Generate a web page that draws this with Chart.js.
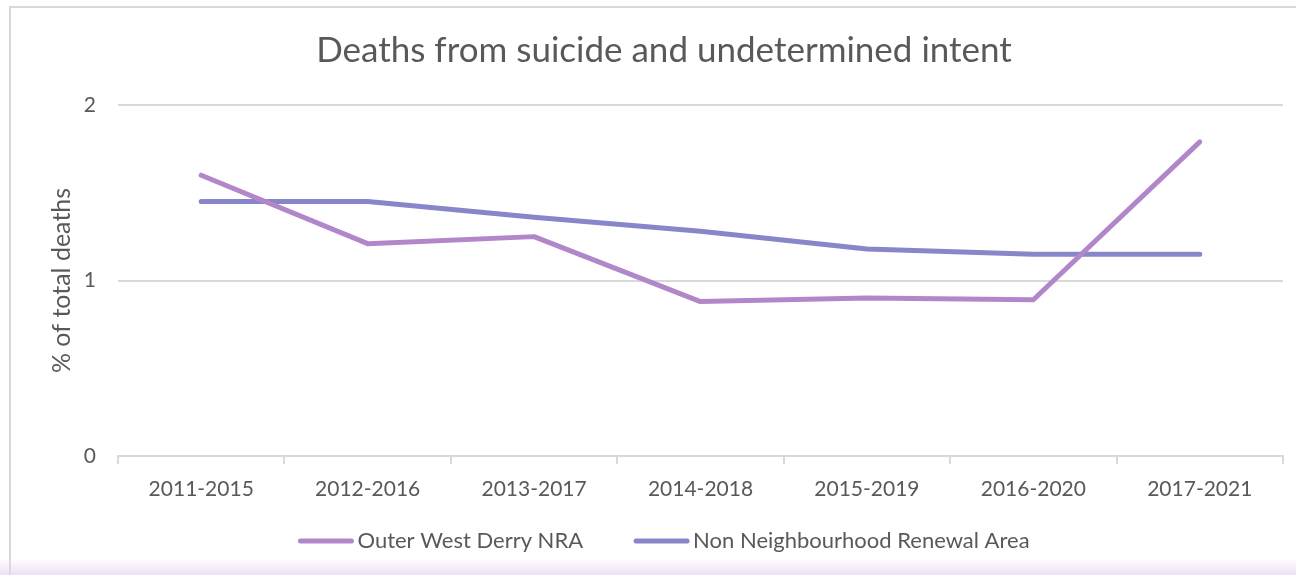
<!DOCTYPE html>
<html>
<head>
<meta charset="utf-8">
<script src="https://cdn.jsdelivr.net/npm/chart.js@4"></script>
<style>
  html, body { margin: 0; padding: 0; }
  body {
    width: 1296px; height: 575px; overflow: hidden; position: relative;
    background: linear-gradient(to bottom, #ffffff 0px, #ffffff 558px, #ece0f4 575px);
  }
  #frame {
    position: absolute; left: 9px; top: 6px; width: 1300px; height: 600px;
    border-top: 2px solid #d9d9d9; border-left: 2px solid #d9d9d9;
  }
  #wrap { position: absolute; left: 0; top: 0; width: 1296px; height: 575px; }
</style>
</head>
<body>
<div id="frame"></div>
<div id="wrap"><canvas id="myChart"></canvas></div>
<script>
const periods = ['2011-2015', '2012-2016', '2013-2017', '2014-2018', '2015-2019', '2016-2020', '2017-2021'];
const outerWestDerry = [1.60, 1.21, 1.25, 0.88, 0.90, 0.89, 1.79];
const nonNRA = [1.45, 1.45, 1.36, 1.28, 1.18, 1.15, 1.15];
const yTicks = [0, 1, 2];

const textColor = '#595959';
const gridColor = '#d9d9d9';
let tickFont = { family: 'Lato', size: 21 };

// legend drawn by hand so the line/text gaps match the original
const lineLegend = {
  id: 'lineLegend',
  afterDraw(chart) {
    const c = chart.ctx;
    const y = 541, lineW = 55, gap = 4, itemGap = 51;
    c.save();
    c.font = '22px Lato';
    c.textBaseline = 'middle';
    const items = chart.data.datasets.map(ds => ({
      ds: ds, w: lineW + gap + c.measureText(ds.label).width
    }));
    let total = items.reduce((s, it) => s + it.w, 0) + itemGap * (items.length - 1);
    let x = 664 - total / 2;
    items.forEach(it => {
      c.strokeStyle = it.ds.borderColor;
      c.lineWidth = 5;
      c.lineCap = 'round';
      c.beginPath();
      c.moveTo(x + 2, y);
      c.lineTo(x + lineW - 2, y);
      c.stroke();
      c.fillStyle = textColor;
      c.fillText(it.ds.label, x + lineW + gap, y);
      x += it.w + itemGap;
    });
    c.restore();
  }
};

const ctx = document.getElementById('myChart');

new Chart(ctx, {
  type: 'line',
  data: {
    labels: periods,
    datasets: [{
      label: 'Outer West Derry NRA',
      data: outerWestDerry,
      borderColor: '#b287c9',
      backgroundColor: '#b287c9',
      borderWidth: 5,
      borderCapStyle: 'round',
      borderJoinStyle: 'round',
      pointRadius: 0,
      tension: 0
    }, {
      label: 'Non Neighbourhood Renewal Area',
      data: nonNRA,
      borderColor: '#8686c8',
      backgroundColor: '#8686c8',
      borderWidth: 5,
      borderCapStyle: 'round',
      borderJoinStyle: 'round',
      pointRadius: 0,
      tension: 0
    }]
  },
  plugins: [lineLegend],
  options: {
    responsive: true,
    maintainAspectRatio: false,
    animation: false,
    layout: {
      padding: { left: 45, right: 13, top: 0, bottom: 65 }
    },
    plugins: {
      title: {
        display: true,
        text: 'Deaths from suicide and undetermined intent',
        color: textColor,
        font: { family: 'Lato', size: 35, weight: 'normal' },
        padding: { top: 30, bottom: 33 }
      },
      legend: { display: false },
      tooltip: { enabled: false }
    },
    scales: {
      x: {
        offset: true,
        border: { display: true, color: gridColor, width: 2 },
        grid: {
          display: true,
          offset: true,
          drawOnChartArea: false,
          drawTicks: true,
          tickLength: 8,
          color: gridColor,
          lineWidth: 2
        },
        ticks: {
          color: textColor,
          font: tickFont,
          padding: 13,
          maxRotation: 0
        },
        afterFit: (scale) => { scale.height = 54; }
      },
      y: {
        min: 0,
        max: 2,
        afterBuildTicks: (scale) => {
          scale.ticks = yTicks.map(v => ({ value: v }));
        },
        border: { display: false },
        grid: {
          color: gridColor,
          lineWidth: 2,
          drawTicks: false
        },
        ticks: {
          color: textColor,
          font: tickFont,
          padding: 22
        },
        title: {
          display: true,
          text: '% of total deaths',
          color: textColor,
          font: { family: 'Lato', size: 25 },
          padding: { top: 2, bottom: 0 }
        },
        afterFit: (scale) => { scale.width = 73; }
      }
    }
  }
});
</script>
</body>
</html>
